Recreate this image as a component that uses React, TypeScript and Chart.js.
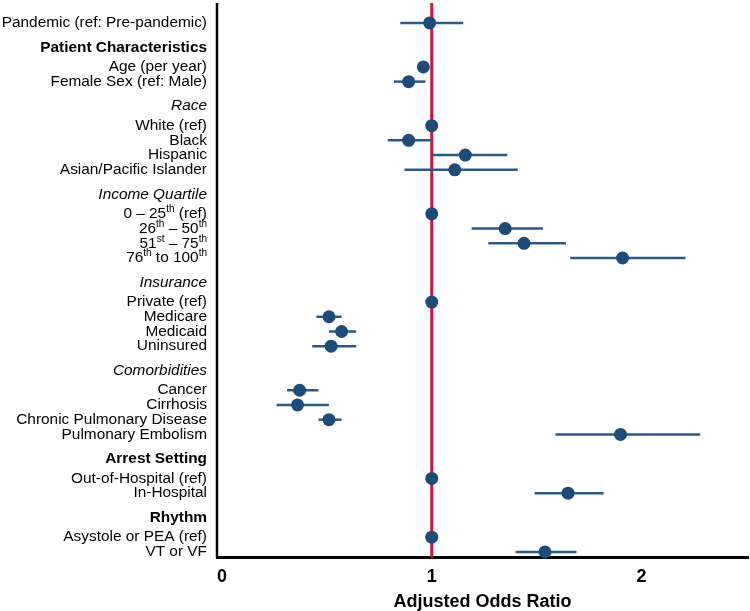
import React, { useEffect, useRef } from "react";
import { Chart, registerables } from "chart.js";

Chart.register(...registerables);

// Row labels; "^xx" marks a superscript suffix.
const rowLabels = [
  "Pandemic (ref: Pre-pandemic)",
  "Patient Characteristics",
  "Age (per year)",
  "Female Sex (ref: Male)",
  "Race",
  "White (ref)",
  "Black",
  "Hispanic",
  "Asian/Pacific Islander",
  "Income Quartile",
  "0 – 25^th (ref)",
  "26^th – 50^th",
  "51^st – 75^th",
  "76^th to 100^th",
  "Insurance",
  "Private (ref)",
  "Medicare",
  "Medicaid",
  "Uninsured",
  "Comorbidities",
  "Cancer",
  "Cirrhosis",
  "Chronic Pulmonary Disease",
  "Pulmonary Embolism",
  "Arrest Setting",
  "Out-of-Hospital (ref)",
  "In-Hospital",
  "Rhythm",
  "Asystole or PEA (ref)",
  "VT or VF",
];

// item = regular row, bold / italic = section heading
const rowKinds = [
  "item", "bold", "item", "item",
  "italic", "item", "item", "item", "item",
  "italic", "item", "item", "item", "item",
  "italic", "item", "item", "item", "item",
  "italic", "item", "item", "item", "item",
  "bold", "item", "item",
  "bold", "item", "item",
];

const oddsRatio = [
  0.99, null, 0.96, 0.89,
  null, 1.0, 0.89, 1.16, 1.11,
  null, 1.0, 1.35, 1.44, 1.91,
  null, 1.0, 0.51, 0.57, 0.52,
  null, 0.37, 0.36, 0.51, 1.9,
  null, 1.0, 1.65,
  null, 1.0, 1.54,
];

const lowerCI = [
  0.85, null, 0.95, 0.82,
  null, null, 0.79, 1.0, 0.87,
  null, null, 1.19, 1.27, 1.66,
  null, null, 0.45, 0.51, 0.43,
  null, 0.31, 0.26, 0.46, 1.59,
  null, null, 1.49,
  null, null, 1.4,
];

const upperCI = [
  1.15, null, 0.97, 0.97,
  null, null, 1.0, 1.36, 1.41,
  null, null, 1.53, 1.64, 2.21,
  null, null, 0.57, 0.64, 0.64,
  null, 0.46, 0.51, 0.57, 2.28,
  null, null, 1.82,
  null, null, 1.69,
];

const xTickValues = [0, 1, 2];
const referenceValue = 1;
const xTitle = "Adjusted Odds Ratio";

const FONT = "'Liberation Sans', Arial, sans-serif";
const POINT_COLOR = "#1f4b78";
const CI_COLOR = "#2c5a87";
const REF_COLOR = "#d31239";

// Vertical positions: headings get extra space above and below.
const rowPos: number[] = [];
rowKinds.forEach((kind, i) => {
  if (i === 0) {
    rowPos.push(0);
    return;
  }
  const prevHeading = rowKinds[i - 1] !== "item";
  const step = kind !== "item" ? 1.66 : prevHeading ? 1.33 : 1;
  rowPos.push(rowPos[i - 1] + step);
});

function drawLabel(
  ctx: CanvasRenderingContext2D,
  text: string,
  kind: string,
  rightX: number,
  y: number
) {
  const base = 15.4;
  const sup = 10;
  const style = kind === "bold" ? "bold " : kind === "italic" ? "italic " : "";
  const parts: { t: string; sup: boolean }[] = [];
  const re = /\^([A-Za-z]+)/g;
  let last = 0;
  let m: RegExpExecArray | null;
  while ((m = re.exec(text))) {
    if (m.index > last) parts.push({ t: text.slice(last, m.index), sup: false });
    parts.push({ t: m[1], sup: true });
    last = m.index + m[0].length;
  }
  if (last < text.length) parts.push({ t: text.slice(last), sup: false });

  const fontFor = (s: boolean) => `${style}${s ? sup : base}px ${FONT}`;
  let total = 0;
  parts.forEach((p) => {
    ctx.font = fontFor(p.sup);
    total += ctx.measureText(p.t).width;
  });
  let x = rightX - total;
  ctx.fillStyle = "#000";
  ctx.textAlign = "left";
  ctx.textBaseline = "middle";
  parts.forEach((p) => {
    ctx.font = fontFor(p.sup);
    ctx.fillText(p.t, x, p.sup ? y - 4.5 : y);
    x += ctx.measureText(p.t).width;
  });
}

const forestPlugin = {
  id: "forest",
  beforeDatasetsDraw(chart: any) {
    const { ctx, chartArea } = chart;
    const xs = chart.scales.x;
    const ys = chart.scales.y;
    ctx.save();
    // reference line at OR = 1
    const rx = xs.getPixelForValue(referenceValue);
    ctx.strokeStyle = REF_COLOR;
    ctx.lineWidth = 3;
    ctx.beginPath();
    ctx.moveTo(rx, chartArea.top);
    ctx.lineTo(rx, chartArea.bottom);
    ctx.stroke();
    // confidence intervals
    ctx.strokeStyle = CI_COLOR;
    ctx.lineWidth = 2.5;
    rowLabels.forEach((_, i) => {
      const lo = lowerCI[i];
      const hi = upperCI[i];
      if (lo == null || hi == null) return;
      const py = ys.getPixelForValue(rowPos[i]);
      ctx.beginPath();
      ctx.moveTo(xs.getPixelForValue(lo), py);
      ctx.lineTo(xs.getPixelForValue(hi), py);
      ctx.stroke();
    });
    // left axis line
    ctx.strokeStyle = "#000";
    ctx.lineWidth = 2.5;
    ctx.beginPath();
    ctx.moveTo(chartArea.left, chartArea.top);
    ctx.lineTo(chartArea.left, chartArea.bottom);
    ctx.stroke();
    ctx.restore();
  },
  afterDraw(chart: any) {
    const { ctx, chartArea } = chart;
    const ys = chart.scales.y;
    ctx.save();
    rowLabels.forEach((label, i) => {
      drawLabel(ctx, label, rowKinds[i], chartArea.left - 10, ys.getPixelForValue(rowPos[i]));
    });
    ctx.restore();
  },
};

export default function App() {
  const canvasRef = useRef<HTMLCanvasElement | null>(null);

  useEffect(() => {
    if (!canvasRef.current) return;
    const points = oddsRatio
      .map((v, i) => (v == null ? null : { x: v, y: rowPos[i] }))
      .filter((p) => p !== null) as { x: number; y: number }[];

    const chart = new Chart(canvasRef.current, {
      type: "scatter",
      data: {
        datasets: [
          {
            data: points,
            pointRadius: 6.5,
            pointHoverRadius: 6.5,
            pointBackgroundColor: POINT_COLOR,
            pointBorderWidth: 0,
            borderWidth: 0,
            clip: false as any,
          },
        ],
      },
      options: {
        responsive: false,
        animation: false,
        events: [],
        layout: { autoPadding: false, padding: { left: 217, top: 3, right: 2, bottom: 0 } },
        plugins: {
          legend: { display: false },
          tooltip: { enabled: false },
        },
        scales: {
          x: {
            type: "linear",
            min: -0.024,
            max: 2.508,
            afterBuildTicks: (scale: any) => {
              scale.ticks = xTickValues.map((v) => ({ value: v }));
            },
            grid: { display: false, drawTicks: false, tickLength: 0 },
            border: { display: true, color: "#000", width: 3 },
            ticks: {
              color: "#000",
              padding: 8,
              font: { family: FONT, size: 18, weight: "bold" },
              callback: (v: any) => String(v),
            },
            title: {
              display: true,
              text: xTitle,
              color: "#000",
              font: { family: FONT, size: 18, weight: "bold" },
              padding: { top: -4, bottom: -2 },
            },
          },
          y: {
            type: "linear",
            display: false,
            reverse: true,
            min: -1.35,
            max: rowPos[rowPos.length - 1] + 0.4,
          },
        },
      },
      plugins: [forestPlugin],
    });
    return () => chart.destroy();
  }, []);

  return (
    <div style={{ position: "absolute", left: 0, top: 0, width: 750, height: 611, background: "#fff" }}>
      <canvas ref={canvasRef} width={750} height={611} />
    </div>
  );
}
